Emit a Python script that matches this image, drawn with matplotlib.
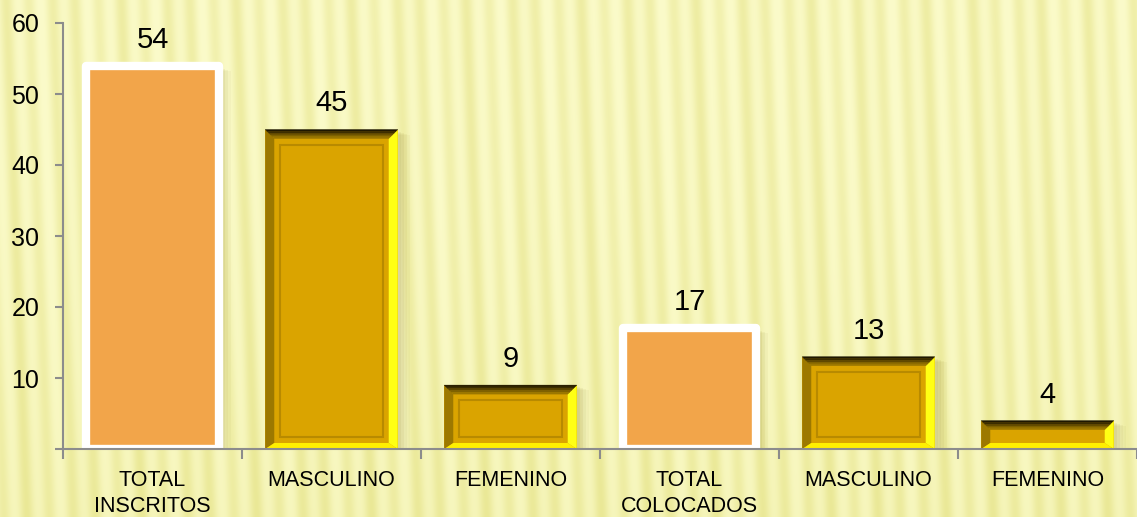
import matplotlib.pyplot as plt
import numpy as np
from matplotlib.patches import Polygon, Rectangle

# data
categories = ['TOTAL\nINSCRITOS', 'MASCULINO', 'FEMENINO', 'TOTAL\nCOLOCADOS', 'MASCULINO', 'FEMENINO']
values = [54, 45, 9, 17, 13, 4]
kinds = ['total', 'gold', 'gold', 'total', 'gold', 'gold']
yticks = [0, 10, 20, 30, 40, 50, 60]

W, H = 1137, 517
fig = plt.figure(figsize=(W / 100, H / 100), dpi=100)

# striped paper background
bg = fig.add_axes([0, 0, 1, 1], zorder=-10)
yy, xx = np.mgrid[0:H, 0:W]
u = xx - 0.04 * yy
s = 0.75 * np.sin(2 * np.pi * u / 23.0) + 0.25 * np.sin(2 * np.pi * u / 57.0 + 0.7)
t = np.clip((s + 1) / 2, 0, 1) ** 1.3
shade = 0.25 * (yy / H) ** 2
t = np.clip(t * 0.75 + shade, 0, 1)
light = np.array([251, 251, 202]) / 255
dark = np.array([234, 232, 150]) / 255
img = light[None, None, :] * (1 - t[..., None]) + dark[None, None, :] * t[..., None]
bg.imshow(img, aspect='auto', extent=[0, 1, 0, 1])
bg.axis('off')

# main axes
left, bottom, top = 63, 68, 23
ax = fig.add_axes([left / W, bottom / H, 1 - left / W, (H - bottom - top) / H])
ax.patch.set_alpha(0)
x = np.arange(len(categories))
width = 0.74
ax.set_xlim(-0.5, len(categories) - 0.5)
ax.set_ylim(0, 60)

px_x = (W - left) / len(categories)   # pixels per x unit
px_y = (H - bottom - top) / 60.0     # pixels per y unit

# soft shadows
for xi, v in zip(x, values):
    for k, a in enumerate([0.06, 0.06, 0.05, 0.04]):
        off = (3 + 3 * k) / px_x
        ax.add_patch(Rectangle((xi - width / 2 + off, 0), width, v - (2 + k) / px_y,
                               facecolor='#6b5a00', alpha=a, edgecolor='none', zorder=1))

bars = ax.bar(x, values, width=width, color='#DAA400', zorder=2)

dx = 9 / px_x
dy = 9 / px_y
db = 6 / px_y
for b, kind in zip(bars, kinds):
    x0, x1, v = b.get_x(), b.get_x() + b.get_width(), b.get_height()
    if kind == 'total':
        b.set_facecolor('#F2A54A')
        b.set_edgecolor('white')
        b.set_linewidth(6)
        b.set_joinstyle('round')
        continue
    # bevel frame
    ax.add_patch(Polygon([(x0, 0), (x0, v), (x0 + dx, v - dy), (x0 + dx, db)],
                         closed=True, facecolor='#9C7800', edgecolor='none', zorder=3))
    ax.add_patch(Polygon([(x1, 0), (x1, v), (x1 - dx, v - dy), (x1 - dx, db)],
                         closed=True, facecolor='#FFFF14', edgecolor='none', zorder=3))
    ax.add_patch(Polygon([(x0, 0), (x1, 0), (x1 - dx, db), (x0 + dx, db)],
                         closed=True, facecolor='#FFEF00', edgecolor='none', zorder=3))
    tops = ['#1E1700', '#3A2C00', '#5C4600', '#7E6100', '#9A7700']
    n = len(tops)
    for i, c in enumerate(tops):
        f0, f1 = i / n, (i + 1) / n
        ax.add_patch(Polygon([(x0 + dx * f0, v - dy * f0), (x1 - dx * f0, v - dy * f0),
                              (x1 - dx * f1, v - dy * f1), (x0 + dx * f1, v - dy * f1)],
                             closed=True, facecolor=c, edgecolor=c, linewidth=0.3, zorder=3))
    # inner engraved line
    ex, ey = 6 / px_x, 6 / px_y
    ih = v - dy - db - 2 * ey
    if ih > 10 / px_y:
        ax.add_patch(Rectangle((x0 + dx + ex, db + ey), (x1 - x0) - 2 * dx - 2 * ex, ih,
                               facecolor='none', edgecolor='#B88A00', linewidth=1.5, zorder=4))

# value labels
for b, v in zip(bars, values):
    ax.annotate(str(v), (b.get_x() + b.get_width() / 2, v), xytext=(0, 13),
                textcoords='offset points', ha='center', va='baseline',
                fontsize=21, family='Liberation Sans', color='black')

# axes styling
axis_col = '#8C8C8C'
for sp in ['top', 'right']:
    ax.spines[sp].set_visible(False)
for sp in ['left', 'bottom']:
    ax.spines[sp].set_color(axis_col)
    ax.spines[sp].set_linewidth(1.5)
    ax.spines[sp].set_zorder(5)

ax.set_yticks(yticks)
ax.set_yticklabels(['' if t == 0 else str(t) for t in yticks], fontsize=18, family='Liberation Sans')
ax.tick_params(axis='y', length=6, width=1.5, color=axis_col, pad=11)

ax.set_xticks(x)
ax.set_xticklabels(categories, fontsize=15.5, family='Liberation Sans', linespacing=1.35)
ax.set_xticks(np.arange(-0.5, len(categories), 1.0), minor=True)
ax.tick_params(axis='x', which='major', length=0, pad=15)
ax.tick_params(axis='x', which='minor', length=7, width=1.5, color=axis_col)

fig.savefig('out.png', dpi=100)
